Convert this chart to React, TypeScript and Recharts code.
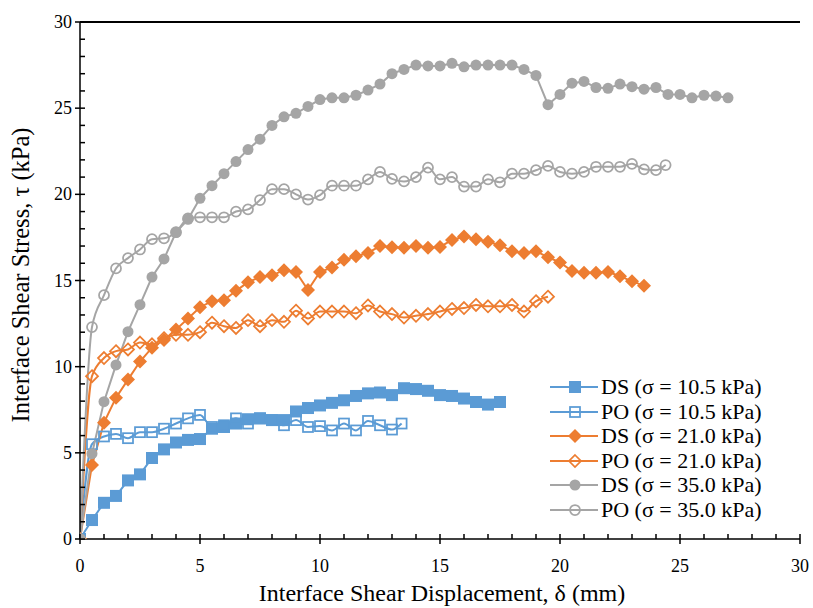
import { Label, Legend, Line, LineChart, ReferenceLine, XAxis, YAxis } from "recharts";

const FONT = '"Liberation Serif", "Times New Roman", serif';
const BLUE = "#5B9BD5";
const ORANGE = "#ED7D31";
const GRAY = "#A5A5A5";

const xTicks = [
	0, 1, 2, 3, 4, 5, 6, 7, 8, 9, 10, 11, 12, 13, 14, 15, 16, 17, 18, 19, 20, 21,
	22, 23, 24, 25, 26, 27, 28, 29, 30,
];
const yTicks = xTicks;

// DS, sigma = 10.5 kPa
const ds105Disp = [
	0, 0.5, 1, 1.5, 2, 2.5, 3, 3.5, 4, 4.5, 5, 5.5, 6, 6.5, 7, 7.5, 8, 8.5, 9,
	9.5, 10, 10.5, 11, 11.5, 12, 12.5, 13, 13.5, 14, 14.5, 15, 15.5, 16, 16.5, 17,
	17.5,
];
const ds105Stress = [
	0, 1.1, 2.1, 2.5, 3.4, 3.75, 4.7, 5.2, 5.6, 5.75, 5.8, 6.4, 6.5, 6.7, 6.95, 7.0,
	6.9, 6.9, 7.4, 7.6, 7.75, 7.9, 8.05, 8.3, 8.45, 8.5, 8.35, 8.75, 8.7, 8.6, 8.35,
	8.3, 8.15, 7.95, 7.8, 7.95,
];

// PO, sigma = 10.5 kPa
const po105Disp = [
	0, 0.5, 1, 1.5, 2, 2.5, 3, 3.5, 4, 4.5, 5, 5.5, 6, 6.5, 7, 7.5, 8, 8.5, 9,
	9.5, 10, 10.5, 11, 11.5, 12, 12.5, 13, 13.4,
];
const po105Stress = [
	0, 5.5, 5.95, 6.1, 5.85, 6.2, 6.2, 6.4, 6.7, 7.0, 7.2, 6.5, 6.6, 7.0, 6.7, 7.0,
	6.9, 6.6, 6.9, 6.5, 6.55, 6.3, 6.7, 6.3, 6.85, 6.6, 6.35, 6.7,
];

// DS, sigma = 21.0 kPa
const ds210Disp = [
	0, 0.5, 1, 1.5, 2, 2.5, 3, 3.5, 4, 4.5, 5, 5.5, 6, 6.5, 7, 7.5, 8, 8.5, 9,
	9.5, 10, 10.5, 11, 11.5, 12, 12.5, 13, 13.5, 14, 14.5, 15, 15.5, 16, 16.5, 17,
	17.5, 18, 18.5, 19, 19.5, 20, 20.5, 21, 21.5, 22, 22.5, 23, 23.5,
];
const ds210Stress = [
	0, 4.3, 6.75, 8.2, 9.25, 10.3, 11.1, 11.55, 12.15, 12.8, 13.45, 13.8, 13.85,
	14.4, 14.9, 15.2, 15.3, 15.6, 15.5, 14.45, 15.5, 15.75, 16.2, 16.4, 16.6, 17.0,
	16.93, 16.9, 17.0, 16.9, 16.95, 17.35, 17.55, 17.4, 17.25, 17.05, 16.7, 16.6,
	16.7, 16.35, 16.05, 15.55, 15.45, 15.45, 15.5, 15.25, 14.95, 14.7,
];

// PO, sigma = 21.0 kPa
const po210Disp = [
	0, 0.5, 1, 1.5, 2, 2.5, 3, 3.5, 4, 4.5, 5, 5.5, 6, 6.5, 7, 7.5, 8, 8.5, 9,
	9.5, 10, 10.5, 11, 11.5, 12, 12.5, 13, 13.5, 14, 14.5, 15, 15.5, 16, 16.5, 17,
	17.5, 18, 18.5, 19, 19.5,
];
const po210Stress = [
	0, 9.45, 10.5, 10.9, 11.0, 11.4, 11.3, 11.65, 11.85, 11.85, 12.0, 12.55, 12.35,
	12.25, 12.7, 12.35, 12.7, 12.6, 13.25, 12.8, 13.2, 13.2, 13.2, 13.1, 13.55, 13.2,
	13.05, 12.85, 12.95, 13.05, 13.2, 13.35, 13.4, 13.58, 13.5, 13.5, 13.58, 13.2,
	13.8, 14.06,
];

// DS, sigma = 35.0 kPa
const ds350Disp = [
	0, 0.5, 1, 1.5, 2, 2.5, 3, 3.5, 4, 4.5, 5, 5.5, 6, 6.5, 7, 7.5, 8, 8.5, 9,
	9.5, 10, 10.5, 11, 11.5, 12, 12.5, 13, 13.5, 14, 14.5, 15, 15.5, 16, 16.5, 17,
	17.5, 18, 18.5, 19, 19.5, 20, 20.5, 21, 21.5, 22, 22.5, 23, 23.5, 24, 24.5, 25,
	25.5, 26, 26.5, 27,
];
const ds350Stress = [
	0, 4.95, 7.97, 10.1, 12.03, 13.6, 15.2, 16.25, 17.8, 18.55, 19.77, 20.5, 21.2,
	21.9, 22.6, 23.2, 24.0, 24.5, 24.7, 25.1, 25.5, 25.6, 25.6, 25.75, 26.05, 26.4,
	27.0, 27.25, 27.5, 27.45, 27.45, 27.6, 27.4, 27.5, 27.5, 27.5, 27.5, 27.25, 26.9,
	25.2, 25.8, 26.45, 26.55, 26.2, 26.15, 26.4, 26.25, 26.1, 26.2, 25.8, 25.8, 25.6,
	25.75, 25.7, 25.6,
];

// PO, sigma = 35.0 kPa
const po350Disp = [
	0, 0.5, 1, 1.5, 2, 2.5, 3, 3.5, 4, 4.5, 5, 5.5, 6, 6.5, 7, 7.5, 8, 8.5, 9,
	9.5, 10, 10.5, 11, 11.5, 12, 12.5, 13, 13.5, 14, 14.5, 15, 15.5, 16, 16.5, 17,
	17.5, 18, 18.5, 19, 19.5, 20, 20.5, 21, 21.5, 22, 22.5, 23, 23.5, 24, 24.4,
];
const po350Stress = [
	0, 12.3, 14.15, 15.7, 16.3, 16.8, 17.4, 17.45, 17.8, 18.6, 18.67, 18.67, 18.67,
	19.0, 19.13, 19.67, 20.3, 20.3, 20.0, 19.7, 19.95, 20.5, 20.5, 20.5, 20.87, 21.3,
	20.9, 20.75, 21.0, 21.55, 20.87, 21.0, 20.45, 20.45, 20.87, 20.7, 21.2, 21.2,
	21.4, 21.65, 21.3, 21.2, 21.3, 21.6, 21.6, 21.6, 21.77, 21.45, 21.4, 21.7,
];

type Shape = "square" | "diamond" | "circle";

const zip = (xs: number[], ys: number[]) => xs.map((x, i) => ({ x, y: ys[i] }));

const series = [
	{ name: "DS (σ = 10.5 kPa)", color: BLUE, shape: "square" as Shape, filled: true, data: zip(ds105Disp, ds105Stress) },
	{ name: "PO (σ = 10.5 kPa)", color: BLUE, shape: "square" as Shape, filled: false, data: zip(po105Disp, po105Stress) },
	{ name: "DS (σ = 21.0 kPa)", color: ORANGE, shape: "diamond" as Shape, filled: true, data: zip(ds210Disp, ds210Stress) },
	{ name: "PO (σ = 21.0 kPa)", color: ORANGE, shape: "diamond" as Shape, filled: false, data: zip(po210Disp, po210Stress) },
	{ name: "DS (σ = 35.0 kPa)", color: GRAY, shape: "circle" as Shape, filled: true, data: zip(ds350Disp, ds350Stress) },
	{ name: "PO (σ = 35.0 kPa)", color: GRAY, shape: "circle" as Shape, filled: false, data: zip(po350Disp, po350Stress) },
];

function Marker({ cx, cy, shape, filled, color }: { cx: number; cy: number; shape: Shape; filled: boolean; color: string }) {
	if (cx == null || cy == null) return null;
	const fill = filled ? color : "none";
	const sw = filled ? 0 : 1.75;
	if (shape === "square") {
		const h = filled ? 6 : 5;
		return <rect x={cx - h} y={cy - h} width={2 * h} height={2 * h} fill={fill} stroke={color} strokeWidth={sw} />;
	}
	if (shape === "diamond") {
		const h = filled ? 7 : 6;
		return (
			<polygon
				points={`${cx},${cy - h} ${cx + h},${cy} ${cx},${cy + h} ${cx - h},${cy}`}
				fill={fill}
				stroke={color}
				strokeWidth={sw}
			/>
		);
	}
	return <circle cx={cx} cy={cy} r={filled ? 5.5 : 5} fill={fill} stroke={color} strokeWidth={sw} />;
}

function XTick(props: any) {
	const { x, y, payload } = props;
	const v = payload.value;
	const major = v % 5 === 0;
	return (
		<g>
			{major ? (
				<line x1={x} x2={x} y1={y - 5} y2={y + 5} stroke="#000" strokeWidth={1.5} />
			) : (
				<line x1={x} x2={x} y1={y} y2={y - 5} stroke="#000" strokeWidth={1.5} />
			)}
			{major && (
				<text x={x} y={y + 33} textAnchor="middle" fontFamily={FONT} fontSize={18} fill="#000">
					{v}
				</text>
			)}
		</g>
	);
}

function YTick(props: any) {
	const { x, y, payload } = props;
	const v = payload.value;
	const major = v % 5 === 0;
	return (
		<g>
			{major ? (
				<line x1={x - 5} x2={x + 5} y1={y} y2={y} stroke="#000" strokeWidth={1.5} />
			) : (
				<line x1={x} x2={x + 5} y1={y} y2={y} stroke="#000" strokeWidth={1.5} />
			)}
			{major && (
				<text x={x - 8} y={y + 6} textAnchor="end" fontFamily={FONT} fontSize={18} fill="#000">
					{v}
				</text>
			)}
		</g>
	);
}

function LegendBox() {
	return (
		<div style={{ fontFamily: FONT, fontSize: 22, color: "#000" }}>
			{series.map((s) => (
				<div key={s.name} style={{ display: "flex", alignItems: "center", height: 24.5 }}>
					<svg width={52} height={20} style={{ display: "block" }}>
						<line x1={2} x2={50} y1={10} y2={10} stroke={s.color} strokeWidth={2} />
						<Marker cx={27} cy={10} shape={s.shape} filled={s.filled} color={s.color} />
					</svg>
					<span style={{ marginLeft: 1, whiteSpace: "nowrap", lineHeight: "24px" }}>{s.name}</span>
				</div>
			))}
		</div>
	);
}

export default function App() {
	return (
		<div style={{ position: "absolute", left: 0, top: 0, width: 813, height: 608, background: "#fff" }}>
			<LineChart width={813} height={608} margin={{ top: 22, right: 13, bottom: 39, left: 20 }}>
				<XAxis
					type="number"
					dataKey="x"
					domain={[0, 30]}
					ticks={xTicks}
					interval={0}
					tick={<XTick />}
					tickLine={false}
					tickSize={0}
					tickMargin={0}
					height={30}
					axisLine={{ stroke: "#000", strokeWidth: 1.5 }}
					allowDataOverflow
				>
					<Label
						content={() => (
							<text x={442} y={601} textAnchor="middle" fontFamily={FONT} fontSize={24} fill="#000">
								Interface Shear Displacement, δ (mm)
							</text>
						)}
					/>
				</XAxis>
				<YAxis
					type="number"
					domain={[0, 30]}
					ticks={yTicks}
					interval={0}
					tick={<YTick />}
					tickLine={false}
					tickSize={0}
					tickMargin={0}
					width={60}
					axisLine={{ stroke: "#000", strokeWidth: 1.5 }}
					allowDataOverflow
				>
					<Label
						content={() => (
							<text
								transform="translate(29,275) rotate(-90)"
								x={0}
								y={0}
								textAnchor="middle"
								fontFamily={FONT}
								fontSize={24.5}
								fill="#000"
							>
								Interface Shear Stress, τ (kPa)
							</text>
						)}
					/>
				</YAxis>
				<ReferenceLine y={30} stroke="#000" strokeWidth={2} ifOverflow="visible" />
				{series.map((s) => (
					<Line
						key={s.name}
						data={s.data}
						dataKey="y"
						name={s.name}
						type={s.filled ? "linear" : "monotone"}
						stroke={s.color}
						strokeWidth={2}
						isAnimationActive={false}
						activeDot={false}
						dot={(p: any) => (
							<Marker
								key={`${s.name}-${p.index}`}
								cx={p.cx}
								cy={p.cy}
								shape={s.shape}
								filled={s.filled}
								color={s.color}
							/>
						)}
					/>
				))}
				<Legend
					layout="vertical"
					align="center"
					verticalAlign="middle"
					content={() => <LegendBox />}
					wrapperStyle={{ left: 548, top: 375, width: 250 }}
				/>
			</LineChart>
		</div>
	);
}
